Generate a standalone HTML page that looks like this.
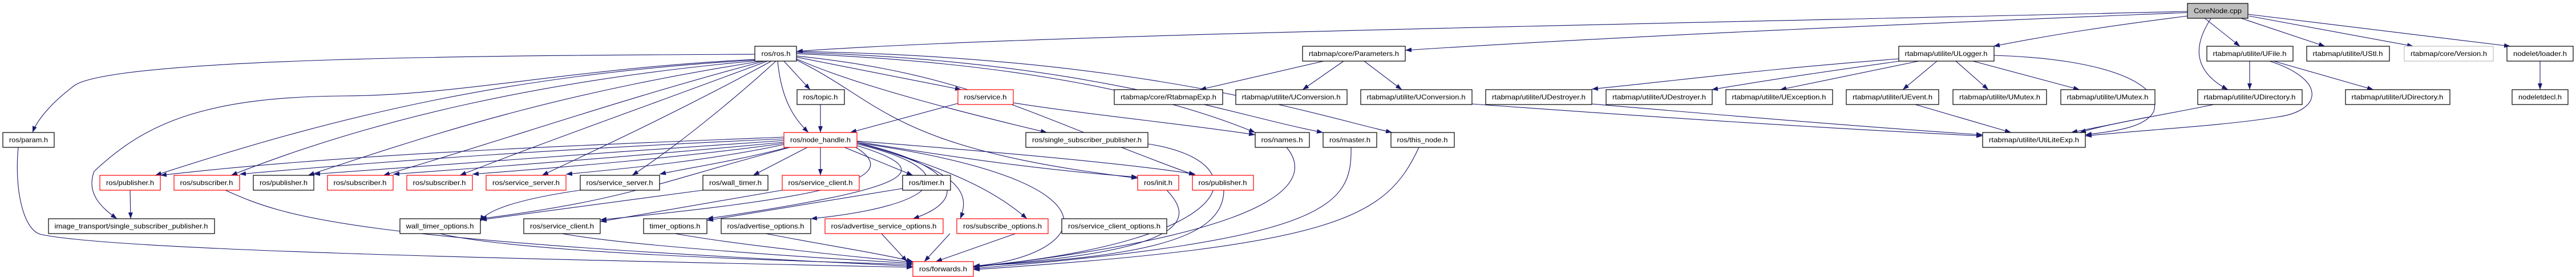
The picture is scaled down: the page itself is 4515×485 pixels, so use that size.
<!DOCTYPE html>
<html><head><meta charset="utf-8"><style>
html,body{margin:0;padding:0;background:#fff;}
svg{display:block}
text{font-family:"Liberation Sans",sans-serif;font-size:12px;fill:#000}
.e{fill:none;stroke:#191970;stroke-width:1.1}
</style></head><body>
<svg width="4515" height="485" viewBox="0 0 4515 485" xmlns="http://www.w3.org/2000/svg">
<defs><marker id="a" markerWidth="11" markerHeight="8" refX="11" refY="4" orient="auto" markerUnits="userSpaceOnUse"><path d="M0,0 L11,4 L0,8z" fill="#191970"/></marker></defs>
<g class="e" marker-end="url(#a)">
<!-- CoreNode edges -->
<path d="M3834,20 C3000,40 1800,60 1396,90"/>
<path d="M3834,22 C3400,40 2900,60 2463,88"/>
<path d="M3834,28 C3700,45 3600,60 3494,81"/>
<path d="M3863,31 L3926,81"/>
<path d="M3876,31 C3850,70 3835,120 3905,157"/>
<path d="M3925,31 L4075,81"/>
<path d="M3942,28 L4230,81"/>
<path d="M3940,25 L4400,81"/>
<path d="M4452,107 L4452,157"/>
<path d="M3943,107 L3943,157"/>
<path d="M3985,107 L4160,157"/>
<path d="M3978,107 C4080,140 4070,195 3990,205 C3900,220 3750,228 3655,238"/>
<!-- ULogger -->
<path d="M3328,103 C3100,120 2950,140 2790,156"/>
<path d="M3330,107 C3200,125 3100,140 3000,157"/>
<path d="M3363,107 L3120,157"/>
<path d="M3395,107 L3335,157"/>
<path d="M3428,107 L3485,157"/>
<path d="M3458,107 L3645,157"/>
<path d="M3495,97 C3700,103 3790,150 3775,195 C3760,225 3700,230 3655,236"/>
<path d="M3357,183 L3525,232"/>
<path d="M3765,205 L3630,232"/>
<path d="M3880,183 C3800,200 3700,215 3645,232"/>
<path d="M2580,182 C2900,205 3200,225 3475,238"/>
<path d="M2790,182 C3000,200 3300,225 3475,236"/>
<!-- Parameters -->
<path d="M2355,107 L2283,157"/>
<path d="M2391,107 L2457,157"/>
<path d="M2320,107 L2103,157"/>
<!-- ros.h -->
<path d="M1323,95 C900,97 200,100 130,150 C90,180 65,210 57,232"/>
<path d="M1323,104 C1000,120 800,168 600,168 C350,170 250,220 165,300 C150,340 180,365 205,383"/>
<path d="M1325,105 C900,130 600,200 272,307"/>
<path d="M1330,106 C950,140 650,210 405,307"/>
<path d="M1335,107 C1000,160 800,220 540,307"/>
<path d="M1340,107 C1100,170 900,240 672,307"/>
<path d="M1345,107 C1150,180 950,250 806,307"/>
<path d="M1352,107 C1200,190 1050,260 950,307"/>
<path d="M1360,107 C1280,180 1180,260 1108,307"/>
<path d="M1374,107 L1420,157"/>
<path d="M1438,183 L1438,232"/>
<path d="M1363,107 C1370,180 1395,210 1417,232"/>
<path d="M1396,100 L1685,157"/>
<path d="M1396,103 C1500,150 1700,200 1835,232"/>
<path d="M1396,105 C1550,180 1560,260 1994,312"/>
<path d="M1396,98 C1700,130 1800,200 2095,307"/>
<path d="M1396,94 C1800,110 2050,170 2200,232"/>
<path d="M1396,92 C1900,105 2150,200 2319,232"/>
<path d="M1396,90 C2000,100 2300,200 2440,232"/>
<path d="M1679,181 L1490,232"/>
<path d="M1776,180 C1900,200 2100,220 2200,236"/>
<!-- node_handle -->
<path d="M1374,240 C1000,255 600,270 281,307"/>
<path d="M1374,243 C1000,260 700,280 420,305"/>
<path d="M1374,246 C1100,265 800,285 550,305"/>
<path d="M1374,249 C1150,270 900,290 689,305"/>
<path d="M1374,251 C1200,275 1000,292 828,305"/>
<path d="M1374,253 C1250,280 1100,295 992,305"/>
<path d="M1380,258 C1300,280 1200,295 1156,305"/>
<path d="M1415,258 L1320,307"/>
<path d="M1438,258 L1438,307"/>
<path d="M1480,258 L1600,307"/>
<path d="M1385,258 C1150,320 1100,350 842,383"/>
<path d="M1500,258 C1600,320 1400,350 1052,385"/>
<path d="M1502,255 C1650,300 1600,330 1239,383"/>
<path d="M1502,252 C1700,300 1650,360 1421,383"/>
<path d="M1502,250 C1680,290 1700,350 1600,383"/>
<path d="M1502,250 C1690,300 1700,340 1683,383"/>
<path d="M1502,250 C1650,290 1740,330 1800,383"/>
<path d="M1502,248 C1700,280 1850,300 1994,310"/>
<path d="M1502,247 C1800,270 2000,290 2095,305"/>
<path d="M1502,250 C2000,320 1900,450 1706,466"/>
<!-- to forwards -->
<path d="M32,258 C25,330 40,400 70,410 C200,440 1000,455 1600,468"/>
<path d="M395,333 C500,380 600,420 1600,466"/>
<path d="M228,333 L229,383"/>
<path d="M1232,333 L842,385"/>
<path d="M1017,333 C900,350 850,370 842,388"/>
<path d="M1371,333 L1052,388"/>
<path d="M1582,330 L1239,386"/>
<path d="M771,409 C900,440 1300,455 1600,463"/>
<path d="M985,409 C1100,430 1400,450 1600,461"/>
<path d="M1183,409 C1300,430 1500,450 1600,459"/>
<path d="M1342,409 C1450,430 1550,445 1600,458"/>
<path d="M1545,409 L1590,458"/>
<path d="M1665,409 L1620,458"/>
<path d="M1780,409 L1640,458"/>
<path d="M2045,333 C2090,380 2100,440 1706,466"/>
<path d="M2145,333 C2145,420 2000,450 1706,466"/>
<path d="M2012,252 C2200,280 2200,420 1706,467"/>
<path d="M2255,258 C2290,300 2310,400 1706,468"/>
<path d="M2368,258 C2370,360 2330,420 1706,470"/>
<path d="M2487,258 C2430,380 2350,430 1706,472"/>
</g>
<g stroke-width="1.2" fill="#fff">
<rect x="3834" y="6" width="106" height="26" fill="#bfbfbf" stroke="#000"/>
<rect x="1323" y="81" width="73" height="26" stroke="#000"/>
<rect x="2283" y="81" width="180" height="26" stroke="#000"/>
<rect x="3328" y="81" width="167" height="26" stroke="#000"/>
<rect x="3868" y="81" width="151" height="26" stroke="#000"/>
<rect x="4043" y="81" width="145" height="26" stroke="#000"/>
<rect x="4214" y="81" width="156" height="26" stroke="#bfbfbf"/>
<rect x="4394" y="81" width="116" height="26" stroke="#000"/>
<rect x="1397" y="157" width="83" height="26" stroke="#000"/>
<rect x="1679" y="157" width="97" height="26" stroke="#f00"/>
<rect x="1953" y="157" width="190" height="26" stroke="#000"/>
<rect x="2166" y="157" width="195" height="26" stroke="#000"/>
<rect x="2385" y="157" width="195" height="26" stroke="#000"/>
<rect x="2604" y="157" width="186" height="26" stroke="#000"/>
<rect x="2815" y="157" width="186" height="26" stroke="#000"/>
<rect x="3025" y="157" width="187" height="26" stroke="#000"/>
<rect x="3236" y="157" width="162" height="26" stroke="#000"/>
<rect x="3423" y="157" width="164" height="26" stroke="#000"/>
<rect x="3612" y="157" width="165" height="26" stroke="#000"/>
<rect x="3852" y="157" width="183" height="26" stroke="#000"/>
<rect x="4111" y="157" width="183" height="26" stroke="#000"/>
<rect x="4403" y="157" width="98" height="26" stroke="#000"/>
<rect x="5" y="232" width="90" height="26" stroke="#000"/>
<rect x="1374" y="232" width="128" height="26" stroke="#f00"/>
<rect x="1798" y="232" width="214" height="26" stroke="#000"/>
<rect x="2200" y="232" width="95" height="26" stroke="#000"/>
<rect x="2319" y="232" width="94" height="26" stroke="#000"/>
<rect x="2438" y="232" width="111" height="26" stroke="#000"/>
<rect x="3475" y="232" width="180" height="26" stroke="#000"/>
<rect x="175" y="307" width="106" height="26" stroke="#f00"/>
<rect x="305" y="307" width="115" height="26" stroke="#f00"/>
<rect x="444" y="307" width="106" height="26" stroke="#000"/>
<rect x="574" y="307" width="115" height="26" stroke="#f00"/>
<rect x="713" y="307" width="115" height="26" stroke="#f00"/>
<rect x="852" y="307" width="140" height="26" stroke="#f00"/>
<rect x="1017" y="307" width="139" height="26" stroke="#000"/>
<rect x="1232" y="307" width="114" height="26" stroke="#000"/>
<rect x="1371" y="307" width="135" height="26" stroke="#f00"/>
<rect x="1582" y="307" width="84" height="26" stroke="#000"/>
<rect x="1994" y="307" width="72" height="26" stroke="#f00"/>
<rect x="2090" y="307" width="107" height="26" stroke="#f00"/>
<rect x="85" y="383" width="291" height="26" stroke="#000"/>
<rect x="701" y="383" width="141" height="26" stroke="#000"/>
<rect x="918" y="383" width="134" height="26" stroke="#000"/>
<rect x="1128" y="383" width="111" height="26" stroke="#000"/>
<rect x="1264" y="383" width="157" height="26" stroke="#000"/>
<rect x="1446" y="383" width="207" height="26" stroke="#f00"/>
<rect x="1677" y="383" width="160" height="26" stroke="#f00"/>
<rect x="1861" y="383" width="184" height="26" stroke="#000"/>
<rect x="1600" y="458" width="106" height="26" stroke="#f00"/>
</g>
<g text-anchor="middle" lengthAdjust="spacingAndGlyphs">
<text x="3887" y="23" textLength="84" lengthAdjust="spacingAndGlyphs">CoreNode.cpp</text>
<text x="1360" y="98" textLength="51" lengthAdjust="spacingAndGlyphs">ros/ros.h</text>
<text x="2373" y="98" textLength="158" lengthAdjust="spacingAndGlyphs">rtabmap/core/Parameters.h</text>
<text x="3411" y="98" textLength="145" lengthAdjust="spacingAndGlyphs">rtabmap/utilite/ULogger.h</text>
<text x="3943" y="98" textLength="129" lengthAdjust="spacingAndGlyphs">rtabmap/utilite/UFile.h</text>
<text x="4115" y="98" textLength="123" lengthAdjust="spacingAndGlyphs">rtabmap/utilite/UStl.h</text>
<text x="4292" y="98" textLength="134" lengthAdjust="spacingAndGlyphs">rtabmap/core/Version.h</text>
<text x="4452" y="98" textLength="94" lengthAdjust="spacingAndGlyphs">nodelet/loader.h</text>
<text x="1438" y="174" textLength="61" lengthAdjust="spacingAndGlyphs">ros/topic.h</text>
<text x="1727" y="174" textLength="75" lengthAdjust="spacingAndGlyphs">ros/service.h</text>
<text x="2048" y="174" textLength="168" lengthAdjust="spacingAndGlyphs">rtabmap/core/RtabmapExp.h</text>
<text x="2263" y="174" textLength="173" lengthAdjust="spacingAndGlyphs">rtabmap/utilite/UConversion.h</text>
<text x="2482" y="174" textLength="173" lengthAdjust="spacingAndGlyphs">rtabmap/utilite/UConversion.h</text>
<text x="2697" y="174" textLength="164" lengthAdjust="spacingAndGlyphs">rtabmap/utilite/UDestroyer.h</text>
<text x="2908" y="174" textLength="164" lengthAdjust="spacingAndGlyphs">rtabmap/utilite/UDestroyer.h</text>
<text x="3118" y="174" textLength="165" lengthAdjust="spacingAndGlyphs">rtabmap/utilite/UException.h</text>
<text x="3317" y="174" textLength="140" lengthAdjust="spacingAndGlyphs">rtabmap/utilite/UEvent.h</text>
<text x="3505" y="174" textLength="142" lengthAdjust="spacingAndGlyphs">rtabmap/utilite/UMutex.h</text>
<text x="3694" y="174" textLength="143" lengthAdjust="spacingAndGlyphs">rtabmap/utilite/UMutex.h</text>
<text x="3943" y="174" textLength="161" lengthAdjust="spacingAndGlyphs">rtabmap/utilite/UDirectory.h</text>
<text x="4202" y="174" textLength="161" lengthAdjust="spacingAndGlyphs">rtabmap/utilite/UDirectory.h</text>
<text x="4452" y="174" textLength="76" lengthAdjust="spacingAndGlyphs">nodeletdecl.h</text>
<text x="50" y="249" textLength="68" lengthAdjust="spacingAndGlyphs">ros/param.h</text>
<text x="1438" y="249" textLength="106" lengthAdjust="spacingAndGlyphs">ros/node_handle.h</text>
<text x="1905" y="249" textLength="192" lengthAdjust="spacingAndGlyphs">ros/single_subscriber_publisher.h</text>
<text x="2247" y="249" textLength="73" lengthAdjust="spacingAndGlyphs">ros/names.h</text>
<text x="2366" y="249" textLength="72" lengthAdjust="spacingAndGlyphs">ros/master.h</text>
<text x="2493" y="249" textLength="89" lengthAdjust="spacingAndGlyphs">ros/this_node.h</text>
<text x="3565" y="249" textLength="158" lengthAdjust="spacingAndGlyphs">rtabmap/utilite/UtiLiteExp.h</text>
<text x="228" y="324" textLength="84" lengthAdjust="spacingAndGlyphs">ros/publisher.h</text>
<text x="362" y="324" textLength="93" lengthAdjust="spacingAndGlyphs">ros/subscriber.h</text>
<text x="497" y="324" textLength="84" lengthAdjust="spacingAndGlyphs">ros/publisher.h</text>
<text x="631" y="324" textLength="93" lengthAdjust="spacingAndGlyphs">ros/subscriber.h</text>
<text x="770" y="324" textLength="93" lengthAdjust="spacingAndGlyphs">ros/subscriber.h</text>
<text x="922" y="324" textLength="118" lengthAdjust="spacingAndGlyphs">ros/service_server.h</text>
<text x="1086" y="324" textLength="117" lengthAdjust="spacingAndGlyphs">ros/service_server.h</text>
<text x="1289" y="324" textLength="92" lengthAdjust="spacingAndGlyphs">ros/wall_timer.h</text>
<text x="1438" y="324" textLength="113" lengthAdjust="spacingAndGlyphs">ros/service_client.h</text>
<text x="1624" y="324" textLength="62" lengthAdjust="spacingAndGlyphs">ros/timer.h</text>
<text x="2030" y="324" textLength="50" lengthAdjust="spacingAndGlyphs">ros/init.h</text>
<text x="2143" y="324" textLength="85" lengthAdjust="spacingAndGlyphs">ros/publisher.h</text>
<text x="230" y="400" textLength="269" lengthAdjust="spacingAndGlyphs">image_transport/single_subscriber_publisher.h</text>
<text x="771" y="400" textLength="119" lengthAdjust="spacingAndGlyphs">wall_timer_options.h</text>
<text x="985" y="400" textLength="112" lengthAdjust="spacingAndGlyphs">ros/service_client.h</text>
<text x="1183" y="400" textLength="89" lengthAdjust="spacingAndGlyphs">timer_options.h</text>
<text x="1342" y="400" textLength="135" lengthAdjust="spacingAndGlyphs">ros/advertise_options.h</text>
<text x="1549" y="400" textLength="185" lengthAdjust="spacingAndGlyphs">ros/advertise_service_options.h</text>
<text x="1757" y="400" textLength="138" lengthAdjust="spacingAndGlyphs">ros/subscribe_options.h</text>
<text x="1953" y="400" textLength="162" lengthAdjust="spacingAndGlyphs">ros/service_client_options.h</text>
<text x="1653" y="475" textLength="84" lengthAdjust="spacingAndGlyphs">ros/forwards.h</text>
</g>
</svg>
</body></html>
